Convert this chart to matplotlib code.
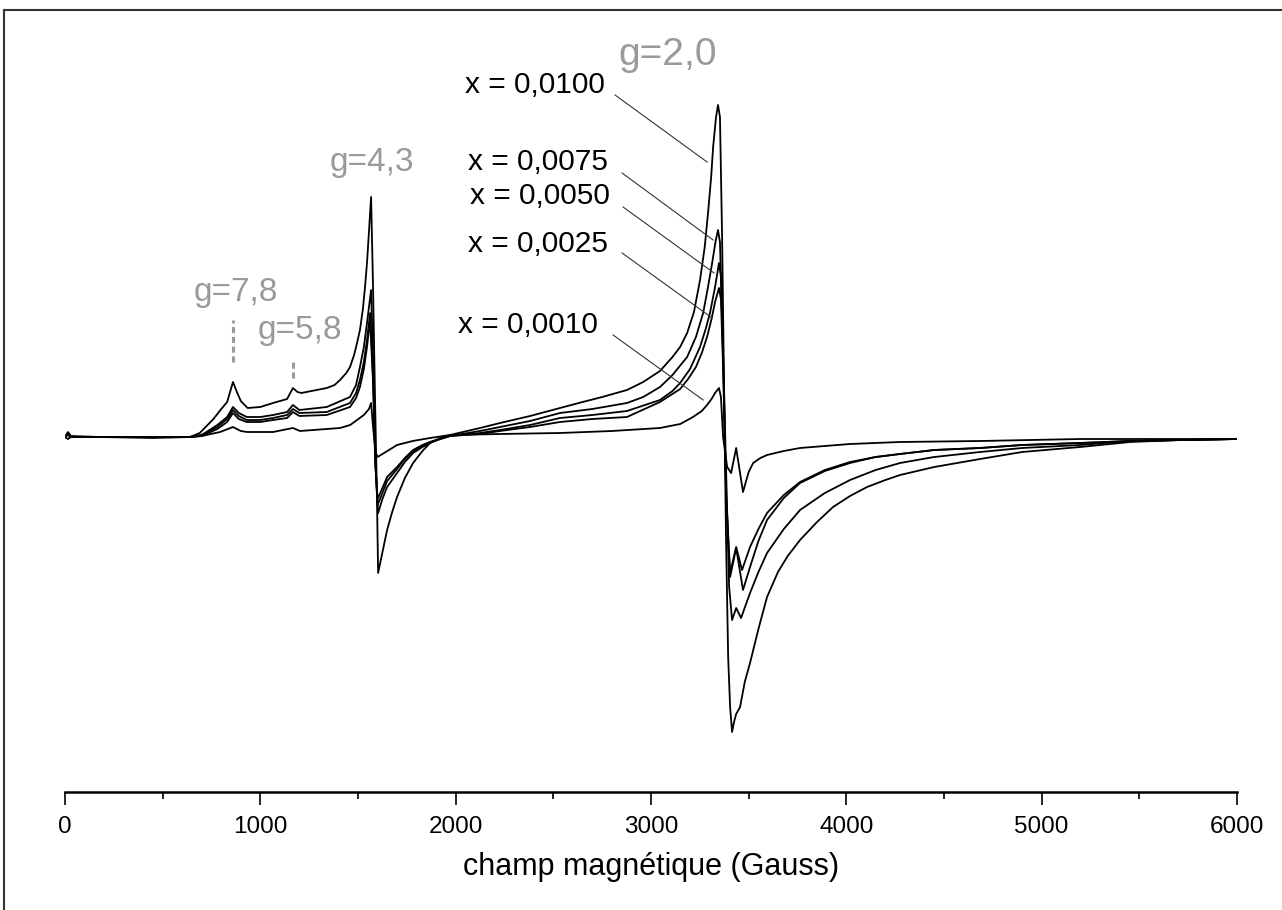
import matplotlib.pyplot as plt
from matplotlib.lines import Line2D
from matplotlib.ticker import MultipleLocator

plt.rcParams['font.family'] = ['Liberation Sans', 'DejaVu Sans']

field_0100 = [0, 15, 30, 180, 450, 640, 690, 760, 800, 830, 860, 880, 900, 935, 1000, 1065, 1137, 1167, 1190,
              1210, 1340, 1380, 1408, 1440, 1459, 1480, 1495, 1510, 1525, 1536, 1546, 1556, 1567, 1577, 1587,
              1597, 1603, 1620, 1649, 1675, 1700, 1740, 1782, 1830, 1869, 1920, 1971, 2125, 2227, 2381, 2534,
              2650, 2750, 2877, 2960, 3046, 3110, 3149, 3185, 3220, 3251, 3275, 3292, 3308, 3318, 3333, 3343,
              3353, 3364, 3374, 3384, 3395, 3405, 3415, 3425, 3436, 3456, 3480, 3507, 3550, 3594, 3650, 3700,
              3763, 3850, 3932, 4019, 4106, 4200, 4275, 4450, 4685, 4900, 5197, 5453, 5700, 6000]
int_0100 = [0, 5, 1, 0, -1, 0, 4, 18, 28, 35, 55, 45, 36, 29, 30, 34, 38, 49, 45,
            44, 49, 52, 57, 64, 70, 82, 94, 107, 128, 150, 174, 205, 240, 150, 40,
            -60, -136, -120, -93, -75, -60, -41, -26, -14, -6, -1, 2, 9, 14, 21, 29,
            35, 40, 47, 55, 66, 80, 90, 104, 125, 157, 190, 224, 260, 290, 320, 332,
            320, 200, 50, -100, -220, -270, -295, -285, -277, -270, -245, -226, -192, -160, -135, -119,
            -103, -85, -70, -59, -50, -43, -38, -30, -22, -15, -10, -5, -3, -2]

field_0075 = [0, 15, 30, 640, 700, 780, 830, 860, 890, 930, 1000, 1065, 1137, 1167, 1200, 1340, 1459, 1490,
              1510, 1530, 1546, 1567, 1577, 1587, 1603, 1625, 1649, 1700, 1740, 1782, 1830, 1869, 1920, 1971,
              2125, 2227, 2381, 2534, 2700, 2877, 2960, 3046, 3110, 3185, 3230, 3267, 3290, 3313, 3330, 3343,
              3353, 3364, 3380, 3400, 3415, 3436, 3461, 3507, 3550, 3594, 3680, 3763, 3890, 4019, 4150, 4275,
              4450, 4685, 4900, 5197, 5453, 6000]
int_0075 = [0, 3, 0, 0, 2, 12, 20, 30, 24, 20, 20, 22, 25, 32, 27, 30, 40, 52,
            70, 90, 114, 147, 80, -20, -76, -62, -50, -36, -25, -16, -10, -6, -2, 1,
            6, 10, 16, 24, 28, 34, 40, 50, 62, 80, 100, 124, 148, 174, 195, 207,
            195, 120, 0, -150, -183, -171, -181, -156, -135, -116, -92, -73, -56, -43, -33, -26,
            -20, -15, -11, -8, -4, -2]

field_0050 = [0, 15, 30, 640, 700, 780, 830, 860, 890, 930, 1000, 1065, 1137, 1167, 1200, 1340, 1459, 1490,
              1510, 1530, 1546, 1562, 1577, 1590, 1600, 1625, 1649, 1700, 1740, 1782, 1830, 1869, 1920, 1971,
              2125, 2227, 2381, 2534, 2700, 2877, 3046, 3110, 3149, 3200, 3251, 3280, 3302, 3328, 3348, 3358,
              3369, 3385, 3405, 3436, 3471, 3507, 3550, 3594, 3680, 3763, 3890, 4019, 4150, 4275, 4450, 4685,
              4900, 5197, 5453, 6000]
int_0050 = [0, -2, 0, 0, 2, 10, 18, 27, 21, 17, 17, 19, 22, 28, 24, 25, 34, 44,
            57, 75, 97, 124, 60, -30, -68, -56, -44, -32, -22, -14, -9, -5, -2, 1,
            4, 7, 12, 19, 22, 26, 37, 46, 54, 68, 90, 108, 124, 150, 174, 160,
            80, -60, -140, -111, -153, -130, -104, -83, -61, -46, -34, -26, -20, -17, -13, -11,
            -8, -6, -4, -2]

field_0025 = [0, 15, 30, 640, 700, 780, 830, 860, 890, 930, 1000, 1065, 1137, 1167, 1200, 1340, 1459, 1490,
              1510, 1530, 1546, 1562, 1577, 1590, 1600, 1625, 1649, 1700, 1740, 1782, 1830, 1869, 1920, 1971,
              2125, 2227, 2381, 2534, 2700, 2877, 3046, 3149, 3190, 3230, 3260, 3287, 3310, 3328, 3348, 3358,
              3369, 3385, 3405, 3436, 3466, 3507, 3550, 3594, 3680, 3763, 3890, 4019, 4150, 4275, 4450, 4685,
              4900, 5197, 5453, 6000]
int_0025 = [0, 2, 0, 0, 1, 8, 15, 24, 18, 15, 15, 17, 19, 25, 21, 22, 30, 39,
            50, 68, 90, 117, 55, -30, -62, -51, -40, -30, -21, -13, -8, -5, -2, 1,
            3, 6, 10, 15, 18, 20, 35, 48, 58, 70, 84, 100, 118, 135, 149, 138,
            70, -60, -136, -110, -133, -110, -92, -76, -58, -45, -33, -25, -20, -17, -13, -11,
            -8, -6, -4, -2]

field_0010 = [0, 15, 30, 640, 700, 794, 860, 900, 932, 1065, 1167, 1203, 1408, 1460, 1495, 1530, 1556, 1567,
              1577, 1590, 1600, 1625, 1650, 1700, 1780, 1869, 1971, 2227, 2534, 2800, 3046, 3150, 3215, 3260,
              3287, 3310, 3328, 3348, 3358, 3369, 3390, 3410, 3436, 3471, 3500, 3523, 3560, 3594, 3680, 3763,
              3890, 4019, 4275, 4685, 5197, 6000]
int_0010 = [0, 4, 0, 0, 1, 5, 10, 6, 5, 5, 9, 6, 9, 12, 17, 22, 28, 34,
            10, -15, -20, -17, -14, -8, -4, -1, 2, 3, 4, 6, 9, 13, 20, 26,
            32, 38, 44, 49, 40, 0, -30, -36, -11, -55, -35, -26, -21, -18, -14, -11,
            -9, -7, -5, -4, -2, -2]

series = [(field_0100, int_0100), (field_0075, int_0075), (field_0050, int_0050),
          (field_0025, int_0025), (field_0010, int_0010)]

labels = ["x = 0,0100", "x = 0,0075", "x = 0,0050", "x = 0,0025", "x = 0,0010"]
label_pos = [(2765, 352), (2780, 275), (2790, 241), (2780, 193), (2729, 112)]
leader_start = [(2816, 342), (2852, 264), (2857, 230), (2852, 184), (2806, 102)]
leader_end = [(3287, 275), (3318, 197), (3323, 164), (3313, 119), (3267, 37)]

g_labels = ["g=2,0", "g=4,3", "g=7,8", "g=5,8"]
g_pos = [(3087, 382), (1572, 275), (876, 145), (1203, 107)]
g_sizes = [28, 24, 24, 24]
g_marks = [(860, 75, 117), (1167, 59, 77)]

fig = plt.figure(figsize=(12.82, 9.10), dpi=100)
ax = fig.add_axes([65 / 1282, 118 / 910, 1172 / 1282, 772 / 910])

for f, v in series:
    ax.plot(f, v, color="black", lw=1.3, solid_joinstyle="round")

grey = "#9a9a9a"
for lab, (tx, ty), (sx, sy), (ex, ey) in zip(labels, label_pos, leader_start, leader_end):
    ax.text(tx, ty, lab, ha="right", va="center", fontsize=21.5, color="black")
    ax.plot([sx, ex], [sy, ey], color="#333333", lw=0.8)

for lab, (tx, ty), fs in zip(g_labels, g_pos, g_sizes):
    ax.text(tx, ty, lab, ha="center", va="center", fontsize=fs, color=grey)
for gx, y0, y1 in g_marks:
    ax.plot([gx, gx], [y0, y1], color=grey, lw=2.2, ls=(0, (2, 1.2)))

ax.set_xlim(0, 6000)
ax.set_ylim(-355, 417)
for s in ["left", "right", "top"]:
    ax.spines[s].set_visible(False)
ax.spines["bottom"].set_linewidth(1.8)
ax.set_yticks([])
ax.xaxis.set_major_locator(MultipleLocator(1000))
ax.xaxis.set_minor_locator(MultipleLocator(500))
ax.tick_params(axis="x", which="major", length=9, width=1.2, labelsize=17.5, pad=8)
ax.tick_params(axis="x", which="minor", length=5, width=1.2)
ax.set_xlabel("champ magnétique (Gauss)", fontsize=22, labelpad=10)

# cadre de la figure (gauche et haut)
fig.add_artist(Line2D([3.5 / 1282, 3.5 / 1282], [0, 900 / 910], color="#333333", lw=1.5))
fig.add_artist(Line2D([3.5 / 1282, 1], [900 / 910, 900 / 910], color="#333333", lw=1.5))

fig.savefig("out.png", dpi=100)
